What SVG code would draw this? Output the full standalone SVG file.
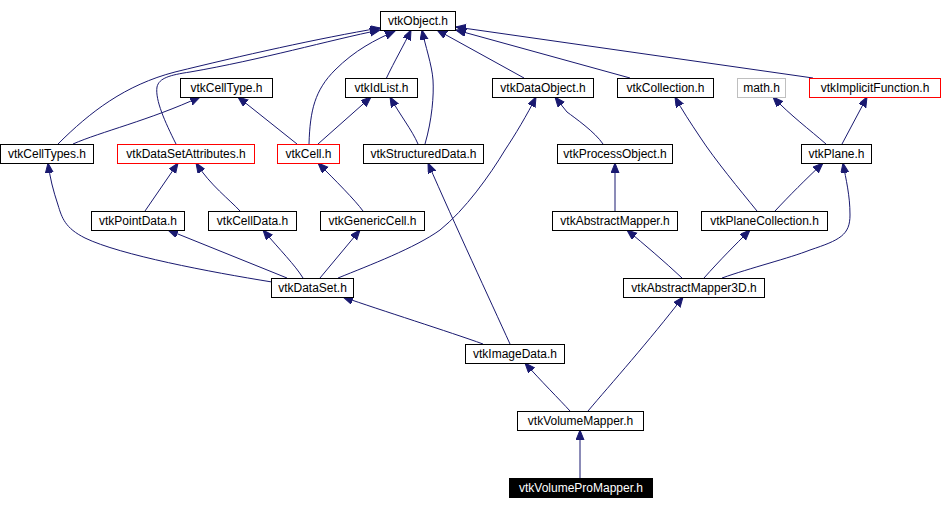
<svg xmlns="http://www.w3.org/2000/svg" width="942" height="509" viewBox="0 0 942 509">
<defs>
<marker id="ah" markerUnits="userSpaceOnUse" markerWidth="11" markerHeight="9" refX="10" refY="4" orient="auto" viewBox="0 0 11 9">
<path d="M0,0 L10,4 L0,8 z" fill="#191970" stroke="#191970" stroke-width="1"/>
</marker>
</defs>
<style>
.n rect{fill:#ffffff;stroke:#000000;stroke-width:1}
.n.red rect{stroke:#ff0000}
.n.grey rect{stroke:#bfbfbf}
.n.cur rect{fill:#000000;stroke:#000000}
.n text{font-family:"Liberation Sans",Arial,sans-serif;font-size:12px;text-anchor:middle;fill:#000000}
.n.cur text{fill:#ffffff}
#edges path{fill:none;stroke:#191970;stroke-width:1;marker-end:url(#ah)}
</style>
<rect width="942" height="509" fill="#ffffff"/>
<g id="edges">
<path d="M58,144 C90,112 125,85 175,72 C240,56 320,38 380,28"/>
<path d="M176,144 C165,122 155,100 157,87 C159,78 170,75 190,72 C260,60 330,40 380,30"/>
<path d="M73,144 C100,132 150,120 200,97"/>
<path d="M297,144 L238,97"/>
<path d="M309,144 C310,110 315,90 335,70 C355,50 375,40 395,31"/>
<path d="M318,144 L371,97"/>
<path d="M386,79 C395,60 404,45 411,30"/>
<path d="M418,144 C412,130 400,115 390,97"/>
<path d="M425,144 C432,120 434,95 433,80 C432,65 425,45 422,30"/>
<path d="M524,78 L437,30"/>
<path d="M630,78 L456,30"/>
<path d="M813,78 L456,27"/>
<path d="M603,144 C595,132 575,118 567,112 L555,97"/>
<path d="M826,144 C810,130 790,115 773,97"/>
<path d="M842,144 L867,97"/>
<path d="M145,211 L178,163"/>
<path d="M240,211 C230,200 210,185 196,163"/>
<path d="M363,211 C355,200 335,180 318,163"/>
<path d="M272,282 C210,272 120,255 85,238 C65,228 62,218 58,205 C53,190 50,178 48,163"/>
<path d="M287,278 L168,230"/>
<path d="M303,278 C295,265 280,250 263,230"/>
<path d="M320,278 L360,230"/>
<path d="M338,278 C370,265 415,248 440,230 C465,210 490,175 505,150 C515,135 527,115 536,97"/>
<path d="M615,211 L615,163"/>
<path d="M757,211 C740,190 715,160 700,137 C690,122 682,110 675,97"/>
<path d="M775,211 C790,195 805,180 823,163"/>
<path d="M682,278 C665,262 645,245 627,230"/>
<path d="M704,278 C720,260 735,245 750,230"/>
<path d="M722,278 C750,268 790,258 810,250 C840,240 850,235 850,215 C850,195 846,180 843,163"/>
<path d="M483,344 C450,332 380,310 343,297"/>
<path d="M510,344 C490,300 455,225 428,163"/>
<path d="M570,411 C560,400 540,380 525,363"/>
<path d="M588,411 C610,385 650,340 683,297"/>
<path d="M580,478 L580,430"/>
</g>
<g id="vtkObject" class="n"><rect x="380.5" y="11.5" width="75" height="19"/><text x="418" y="25">vtkObject.h</text></g>
<g id="vtkCellType" class="n"><rect x="180.5" y="78.5" width="92" height="19"/><text x="226.5" y="92">vtkCellType.h</text></g>
<g id="vtkIdList" class="n"><rect x="345.5" y="78.5" width="72" height="19"/><text x="381.5" y="92">vtkIdList.h</text></g>
<g id="vtkDataObject" class="n"><rect x="492.5" y="78.5" width="101" height="19"/><text x="543" y="92">vtkDataObject.h</text></g>
<g id="vtkCollection" class="n"><rect x="617.5" y="78.5" width="96" height="19"/><text x="665.5" y="92">vtkCollection.h</text></g>
<g id="math" class="n grey"><rect x="737.5" y="78.5" width="48" height="19"/><text x="761.5" y="92">math.h</text></g>
<g id="vtkImplicitFunction" class="n red"><rect x="809.5" y="78.5" width="131" height="19"/><text x="875" y="92">vtkImplicitFunction.h</text></g>
<g id="vtkCellTypes" class="n"><rect x="0.5" y="144.5" width="93" height="19"/><text x="47" y="158">vtkCellTypes.h</text></g>
<g id="vtkDataSetAttributes" class="n red"><rect x="117.5" y="144.5" width="137" height="19"/><text x="186" y="158">vtkDataSetAttributes.h</text></g>
<g id="vtkCell" class="n red"><rect x="277.5" y="144.5" width="62" height="19"/><text x="308.5" y="158">vtkCell.h</text></g>
<g id="vtkStructuredData" class="n"><rect x="363.5" y="144.5" width="120" height="19"/><text x="423.5" y="158">vtkStructuredData.h</text></g>
<g id="vtkProcessObject" class="n"><rect x="557.5" y="144.5" width="115" height="19"/><text x="615" y="158">vtkProcessObject.h</text></g>
<g id="vtkPlane" class="n"><rect x="801.5" y="144.5" width="70" height="19"/><text x="836.5" y="158">vtkPlane.h</text></g>
<g id="vtkPointData" class="n"><rect x="91.5" y="211.5" width="93" height="19"/><text x="138" y="225">vtkPointData.h</text></g>
<g id="vtkCellData" class="n"><rect x="208.5" y="211.5" width="88" height="19"/><text x="252.5" y="225">vtkCellData.h</text></g>
<g id="vtkGenericCell" class="n"><rect x="320.5" y="211.5" width="104" height="19"/><text x="372.5" y="225">vtkGenericCell.h</text></g>
<g id="vtkAbstractMapper" class="n"><rect x="552.5" y="211.5" width="125" height="19"/><text x="615" y="225">vtkAbstractMapper.h</text></g>
<g id="vtkPlaneCollection" class="n"><rect x="701.5" y="211.5" width="126" height="19"/><text x="764.5" y="225">vtkPlaneCollection.h</text></g>
<g id="vtkDataSet" class="n"><rect x="271.5" y="278.5" width="82" height="19"/><text x="312.5" y="292">vtkDataSet.h</text></g>
<g id="vtkAbstractMapper3D" class="n"><rect x="623.5" y="278.5" width="141" height="19"/><text x="694" y="292">vtkAbstractMapper3D.h</text></g>
<g id="vtkImageData" class="n"><rect x="465.5" y="344.5" width="99" height="19"/><text x="515" y="358">vtkImageData.h</text></g>
<g id="vtkVolumeMapper" class="n"><rect x="517.5" y="411.5" width="126" height="19"/><text x="580.5" y="425">vtkVolumeMapper.h</text></g>
<g id="vtkVolumeProMapper" class="n cur"><rect x="509.5" y="478.5" width="143" height="19"/><text x="581" y="492">vtkVolumeProMapper.h</text></g>
</svg>
